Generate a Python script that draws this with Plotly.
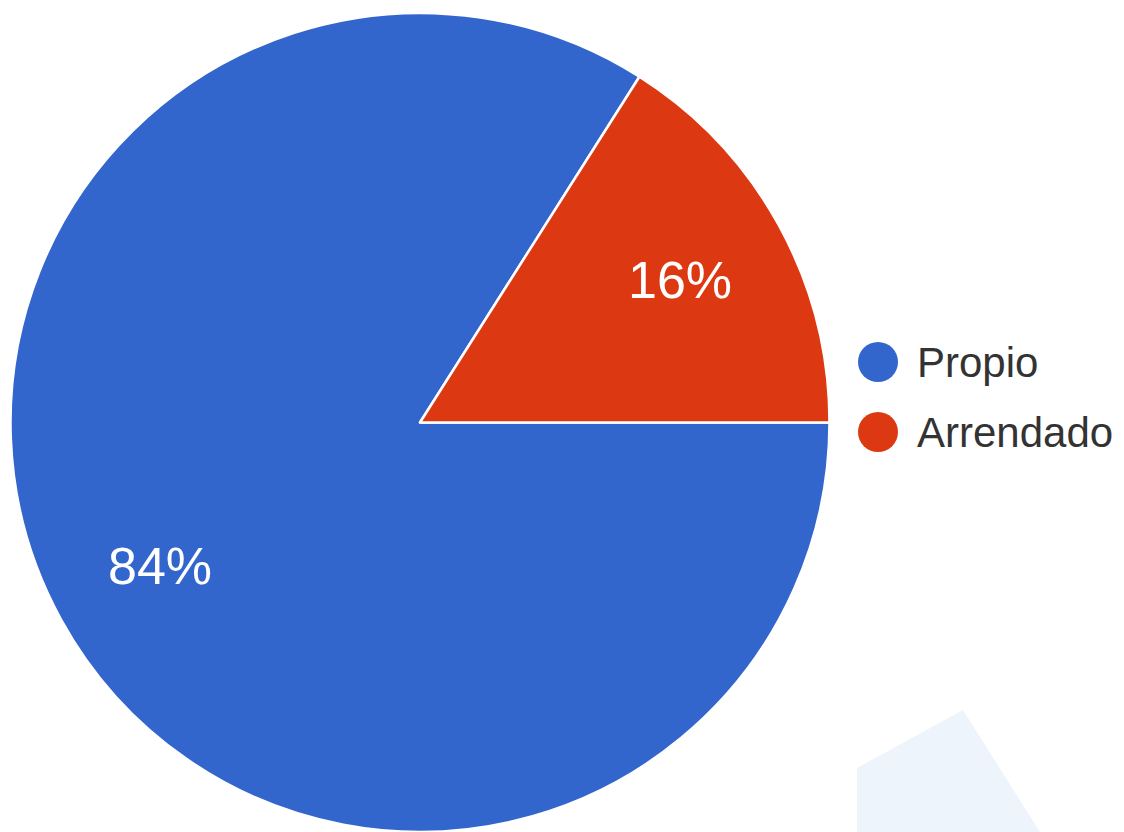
import math
import plotly.graph_objects as go

# Tenencia de la vivienda
categories = ["Propio", "Arrendado"]
values = [84, 16]
colors = ["#3366cc", "#dc3912"]

W, H = 1124, 832


def px(x):
    return x / W


def py(y):
    return 1 - y / H


# pie placement in pixels: centre and radius
CX, CY, R = 420, 423, 410
ROTATION = 90
LABEL_FRAC = 0.725

fig = go.Figure()

fig.add_trace(go.Pie(
    labels=categories,
    values=values,
    sort=False,
    direction="clockwise",
    rotation=ROTATION,
    marker=dict(colors=colors, line=dict(color="white", width=2.5)),
    textinfo="none",
    showlegend=False,
    hoverinfo="label+percent",
    domain=dict(x=[px(CX - R), px(CX + R)], y=[0.0, py(CY - R)]),
))

shapes = [
    # faint light-blue patch in the lower right corner
    dict(type="path", xref="paper", yref="paper", layer="below",
         path=f"M {px(857)},{py(768)} L {px(963)},{py(710)} L {px(1040)},{py(832)} L {px(857)},{py(832)} Z",
         fillcolor="#eef4fc", line=dict(width=0)),
]
annotations = []

# percentage labels placed along each slice's middle angle
total = sum(values)
cum = 0
for v in values:
    mid = math.radians(ROTATION + 360 * (cum + v / 2) / total)
    cum += v
    lx = CX + LABEL_FRAC * R * math.sin(mid)
    ly = CY - LABEL_FRAC * R * math.cos(mid)
    annotations.append(dict(x=px(lx), y=py(ly), xref="paper", yref="paper",
                            text=f"{round(100 * v / total)}%", showarrow=False,
                            xanchor="center", yanchor="middle",
                            font=dict(family="Liberation Sans, Arial, sans-serif", size=52, color="white")))

# legend: round colour markers followed by the category names
legend_y = [362, 432]
for name, col, ly in zip(categories, colors, legend_y):
    shapes.append(dict(type="circle", xref="paper", yref="paper",
                       x0=px(858), x1=px(898), y0=py(ly + 20), y1=py(ly - 20),
                       fillcolor=col, line=dict(width=0)))
    annotations.append(dict(x=px(915), y=py(ly), xref="paper", yref="paper",
                            text=name, showarrow=False, xanchor="left", yanchor="middle",
                            font=dict(family="Liberation Sans, Arial, sans-serif", size=42, color="#333333")))

fig.update_layout(
    width=W, height=H,
    margin=dict(l=0, r=0, t=0, b=0),
    paper_bgcolor="white",
    plot_bgcolor="white",
    shapes=shapes,
    annotations=annotations,
)

fig.write_html("out.html")
